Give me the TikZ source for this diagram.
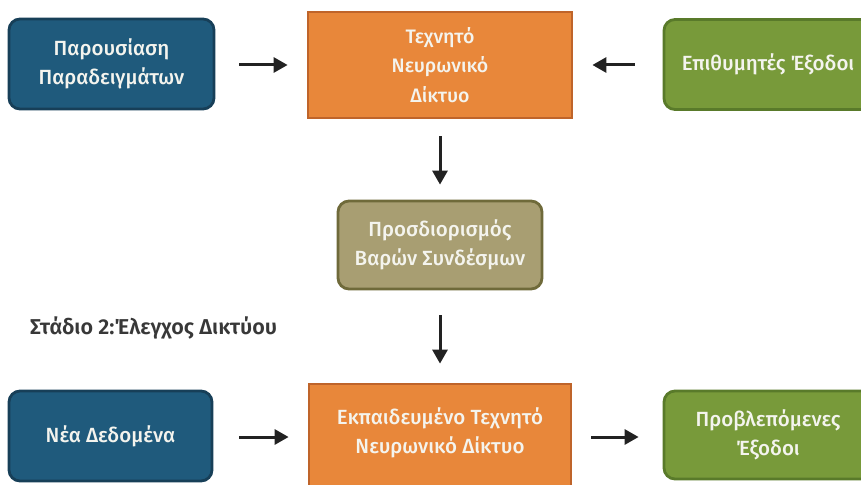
\documentclass[tikz,border=0pt]{standalone}
\usepackage{fontspec}
\setmainfont{Fira Sans}[UprightFont={* Medium}, BoldFont={* SemiBold}]
\usetikzlibrary{arrows.meta}
\definecolor{bluef}{HTML}{1F5A7C}
\definecolor{blued}{HTML}{173F58}
\definecolor{orangef}{HTML}{E8873A}
\definecolor{oranged}{HTML}{BF642A}
\definecolor{greenf}{HTML}{789A3A}
\definecolor{greend}{HTML}{597A2A}
\definecolor{khakif}{HTML}{A89E72}
\definecolor{khakid}{HTML}{6F6A3A}
\definecolor{txtw}{HTML}{F4F4EE}
\definecolor{arr}{HTML}{222222}
\begin{document}
\begin{tikzpicture}[x=1pt,y=-1pt,
  box/.style={line width=2.8pt, text=txtw, align=center, inner sep=0pt,
    font=\fontsize{20.5}{29}\selectfont},
  bluebox/.style={box, fill=bluef, draw=blued, rounded corners=11pt},
  orangebox/.style={box, fill=orangef, draw=oranged},
  greenbox/.style={box, fill=greenf, draw=greend, rounded corners=11pt},
  khakibox/.style={box, fill=khakif, draw=khakid, rounded corners=11pt},
  conn/.style={line width=3pt, draw=arr, -{Triangle[length=14pt,width=15pt]}}
]
\useasboundingbox (0,0) rectangle (861,484);
\clip (0,0) rectangle (861,484);
\fill[white] (0,0) rectangle (861,484);

\node[bluebox, minimum width=205pt, minimum height=90pt] (pres) at (111.5,64) {Παρουσίαση\\Παραδειγμάτων};
\node[orangebox, minimum width=264pt, minimum height=106pt, font=\fontsize{19.5}{29.5}\selectfont] (ann) at (440,65) {Τεχνητό\\Νευρωνικό\\Δίκτυο};
\node[greenbox, minimum width=208pt, minimum height=90pt] (des) at (768,64.5) {Επιθυμητές Έξοδοι};
\node[khakibox, minimum width=204pt, minimum height=88pt] (wts) at (440,245) {Προσδιορισμός\\Βαρών Συνδέσμων};
\node[text=arr!90, font=\fontsize{21.5}{24}\selectfont\bfseries, anchor=west, inner sep=0pt] (stage) at (30,328) {Στάδιο 2:Έλεγχος Δικτύου};
\node[bluebox, minimum width=203pt, minimum height=90pt] (newd) at (110.5,436) {Νέα Δεδομένα};
\node[orangebox, minimum width=262pt, minimum height=106pt, text depth=0pt] (tann) at (440,437) {};
\node[box, anchor=center] (tanntxt) at (440,433) {Εκπαιδευμένο Τεχνητό\\Νευρωνικό Δίκτυο};
\node[greenbox, minimum width=208pt, minimum height=88pt] (pred) at (768,435) {Προβλεπόμενες\\Έξοδοι};

\draw[conn, shorten <=24pt, shorten >=19pt] (pres.east |- ann) -- (ann.west);
\draw[conn, shorten <=28pt, shorten >=19pt] (des.west |- ann) -- (ann.east);
\draw[conn, shorten <=17pt, shorten >=15pt] (ann.south) -- (wts.north);
\draw[conn, shorten <=25pt, shorten >=19pt] (wts.south) -- (tann.north);
\draw[conn, shorten <=26pt, shorten >=19pt] (newd.east |- tann) -- (tann.west);
\draw[conn, shorten <=19pt, shorten >=24pt] (tann.east) -- (pred.west |- tann);
\end{tikzpicture}
\end{document}
